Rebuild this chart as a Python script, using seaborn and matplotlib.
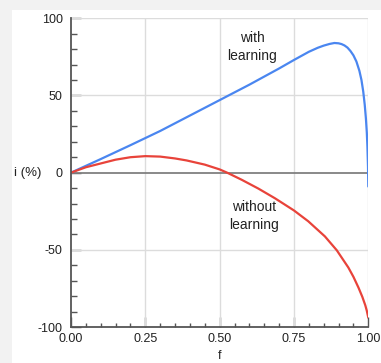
import matplotlib
matplotlib.use("Agg")
import matplotlib.pyplot as plt
import seaborn as sns
import pandas as pd
from matplotlib.patches import Rectangle
from matplotlib.ticker import MultipleLocator

# ---- data ----
f_with = [0, 0.1, 0.2, 0.25, 0.3, 0.4, 0.5, 0.55, 0.6, 0.7, 0.75, 0.8, 0.83, 0.85,
          0.87, 0.886, 0.9, 0.91, 0.92, 0.93, 0.94, 0.95, 0.96, 0.97, 0.977, 0.983,
          0.988, 0.992, 0.995, 0.997, 0.999, 1.0]
i_with = [0, 8.8, 17.8, 22.4, 27, 37, 47, 52, 57, 67.5, 73, 78.3, 80.9, 82.3,
          83.4, 84, 83.8, 83.3, 82.4, 81, 78.8, 76, 72, 66, 60, 52.5,
          44, 35, 26, 17, 4, -9]

f_without = [0, 0.05, 0.109, 0.15, 0.2, 0.25, 0.3, 0.35, 0.389, 0.45, 0.5, 0.525,
             0.574, 0.63, 0.686, 0.75, 0.798, 0.854, 0.894, 0.933, 0.95, 0.967,
             0.98, 0.99, 0.995, 1.0]
i_without = [0, 3.5, 6.4, 8.4, 10, 10.7, 10.4, 9.2, 7.9, 5.2, 2.1, 0,
             -4.6, -10.3, -16.6, -24.5, -31.5, -41.3, -50.3, -61.5, -67.5, -74.5,
             -80.5, -86, -89.5, -94]

x_ticks = [0.0, 0.25, 0.5, 0.75, 1.0]
x_tick_labels = ["0.00", "0.25", "0.50", "0.75", "1.00"]
y_ticks = [-100, -50, 0, 50, 100]
y_tick_labels = ["-100", "-50", "0", "50", "100"]

df = pd.concat([
    pd.DataFrame({"f": f_with, "i": i_with, "series": "with learning"}),
    pd.DataFrame({"f": f_without, "i": i_without, "series": "without learning"}),
])

sns.set_theme(style="white")
plt.rcParams["font.family"] = ["Liberation Sans", "DejaVu Sans"]

fig = plt.figure(figsize=(3.81, 3.63), dpi=100, facecolor="#f2f2f2")
fig.patches.append(Rectangle((12 / 381, 0), 1, 1 - 10 / 363, transform=fig.transFigure,
                             facecolor="white", edgecolor="none", zorder=-10))
ax = fig.add_axes([71 / 381, 1 - 327 / 363, (368.3 - 71) / 381, (327 - 18.3) / 363])
ax.set_facecolor("white")

ax.set_xlim(0, 1)
ax.set_ylim(-100, 100)

# grid
for gx in [0.25, 0.5, 0.75, 1.0]:
    ax.axvline(gx, color="#dcdcdc", lw=1.0, zorder=1)
for gy in [50, 100, -50]:
    ax.axhline(gy, color="#dcdcdc", lw=1.0, zorder=1)
ax.axhline(0, color="#808080", lw=1.3, zorder=2)

sns.lineplot(data=df, x="f", y="i", hue="series",
             palette={"with learning": "#4a86f0", "without learning": "#e8433a"},
             lw=1.6, legend=False, ax=ax, zorder=3, sort=True, estimator=None)

for s in ["top", "right"]:
    ax.spines[s].set_visible(False)
for s in ["left", "bottom"]:
    ax.spines[s].set_color("#555555")
    ax.spines[s].set_linewidth(1.3)
    ax.spines[s].set_zorder(4)

ax.set_xticks(x_ticks)
ax.set_xticklabels(x_tick_labels)
ax.set_yticks(y_ticks)
ax.set_yticklabels(y_tick_labels)
ax.xaxis.set_minor_locator(MultipleLocator(0.05))
ax.yaxis.set_minor_locator(MultipleLocator(10))

ax.tick_params(axis="both", which="major", direction="in", color="#555555",
               width=1.0, labelsize=9, labelcolor="#222222")
ax.tick_params(axis="y", which="major", length=7.5, pad=6)
ax.tick_params(axis="x", which="major", length=7.5, pad=4)
ax.tick_params(axis="y", which="minor", direction="in", length=4, width=1.0, color="#555555")
ax.tick_params(axis="x", which="minor", direction="in", length=3, width=1.0, color="#555555")
ax.tick_params(left=True, bottom=True, which="both")

ax.set_xlabel("f", fontsize=9, color="#222222", labelpad=4)
ax.set_ylabel("")
fig.text(14 / 381, 1 - 173 / 363, "i (%)", fontsize=9.5, color="#222222",
         ha="left", va="center")

ax.text(0.609, 81.5, "with\nlearning", ha="center", va="center", fontsize=10,
        color="#222222", linespacing=1.4)
ax.text(0.615, -28, "without\nlearning", ha="center", va="center", fontsize=10,
        color="#222222", linespacing=1.4)

fig.savefig("out.png", dpi=100, facecolor=fig.get_facecolor())
